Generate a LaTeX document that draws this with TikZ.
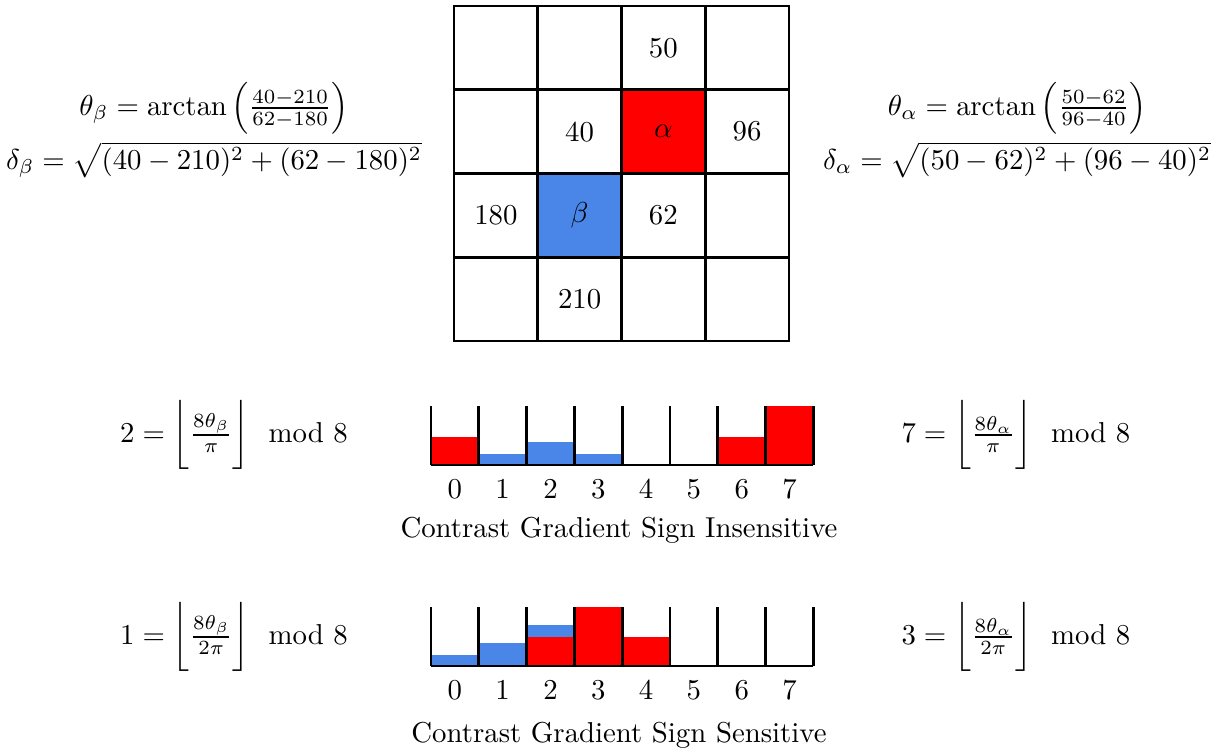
\documentclass[tikz,border=0pt]{standalone}
\usepackage{amsmath}
\usepackage{tikz}
\usepackage{xcolor}
\definecolor{hog_red}{HTML}{FF0000}
\definecolor{hog_blue}{HTML}{4A86E8}
\usetikzlibrary{positioning,calc}
\tikzset{CELL/.style={rectangle,draw,line width=1pt,minimum size=29.08pt,inner sep=0pt,anchor=center}}
\tikzset{HLINE/.style={line width=1pt}}
\tikzset{BINLABEL/.style={inner sep=1pt,anchor=center}}

\begin{document}
\begin{tikzpicture}[x=0.3472pt,y=-0.3472pt]
\useasboundingbox (0,0) rectangle (1226,752);

% patch of pixels
\foreach \r/\c/\v/\f in {0/0/{}/white, 0/1/{}/white, 0/2/50/white, 0/3/{}/white,
    1/0/{}/white, 1/1/40/white, 1/2/$\alpha$/hog_red, 1/3/96/white,
    2/0/180/white, 2/1/$\beta$/hog_blue, 2/2/62/white, 2/3/{}/white,
    3/0/{}/white, 3/1/210/white, 3/2/{}/white, 3/3/{}/white}
  \node[CELL, fill=\f] (cell-\r-\c) at (495.875+83.75*\c, 47.875+83.75*\r) {\v};

\node (n_theta_beta) at (214,108) {$\theta_\beta = \arctan\left(\frac{40-210}{62-180}\right)$};
\node (n_delta_beta) at (214,160) {$\delta_\beta = \sqrt{(40-210)^2+(62-180)^2}$};
\node (n_theta_alpha) at (1017,108) {$\theta_\alpha = \arctan\left(\frac{50-62}{96-40}\right)$};
\node (n_delta_alpha) at (1017,160) {$\delta_\alpha = \sqrt{(50-62)^2+(96-40)^2}$};

% insensitive histogram
\coordinate (h1_base) at (431,465);
\foreach \i/\h/\f in {0/28/hog_red, 1/11/hog_blue, 2/23/hog_blue, 3/11/hog_blue, 6/28/hog_red, 7/59/hog_red}
  \fill[\f] ($(h1_base)+(47.8*\i,0)$) rectangle ++(47.8,-\h);
\foreach \i in {0,...,8}
  \draw[HLINE] ($(h1_base)+(47.8*\i,0)$) -- ++(0,-59);
\draw[HLINE] (h1_base) -- ++(382.4,0);
\foreach \i in {0,...,7}
  \node[BINLABEL] (h1_lab\i) at ($(h1_base)+(23.9+47.8*\i,24)$) {\i};
\node (h1_cap) at ($(h1_base)+(188,65)$) {Contrast Gradient Sign Insensitive};

\node (n_bin_beta1) at (234,435) {$2 = \biggl\lfloor \frac{8\theta_\beta}{\pi} \biggr\rfloor \mod 8$};
\node (n_bin_alpha1) at (1016,435) {$7 = \biggl\lfloor \frac{8\theta_\alpha}{\pi} \biggr\rfloor \mod 8$};

% sensitive histogram
\coordinate (h2_base) at (431,666);
\foreach \i/\h/\f in {0/11/hog_blue, 1/23/hog_blue, 2/41/hog_blue, 2/29/hog_red, 3/59/hog_red, 4/29/hog_red}
  \fill[\f] ($(h2_base)+(47.8*\i,0)$) rectangle ++(47.8,-\h);
\foreach \i in {0,...,8}
  \draw[HLINE] ($(h2_base)+(47.8*\i,0)$) -- ++(0,-59);
\draw[HLINE] (h2_base) -- ++(382.4,0);
\foreach \i in {0,...,7}
  \node[BINLABEL] (h2_lab\i) at ($(h2_base)+(23.9+47.8*\i,24)$) {\i};
\node (h2_cap) at ($(h2_base)+(188,69)$) {Contrast Gradient Sign Sensitive};

\node (n_bin_beta2) at (234,637) {$1 = \biggl\lfloor \frac{8\theta_\beta}{2\pi} \biggr\rfloor \mod 8$};
\node (n_bin_alpha2) at (1016,637) {$3 = \biggl\lfloor \frac{8\theta_\alpha}{2\pi} \biggr\rfloor \mod 8$};

\end{tikzpicture}
\end{document}
